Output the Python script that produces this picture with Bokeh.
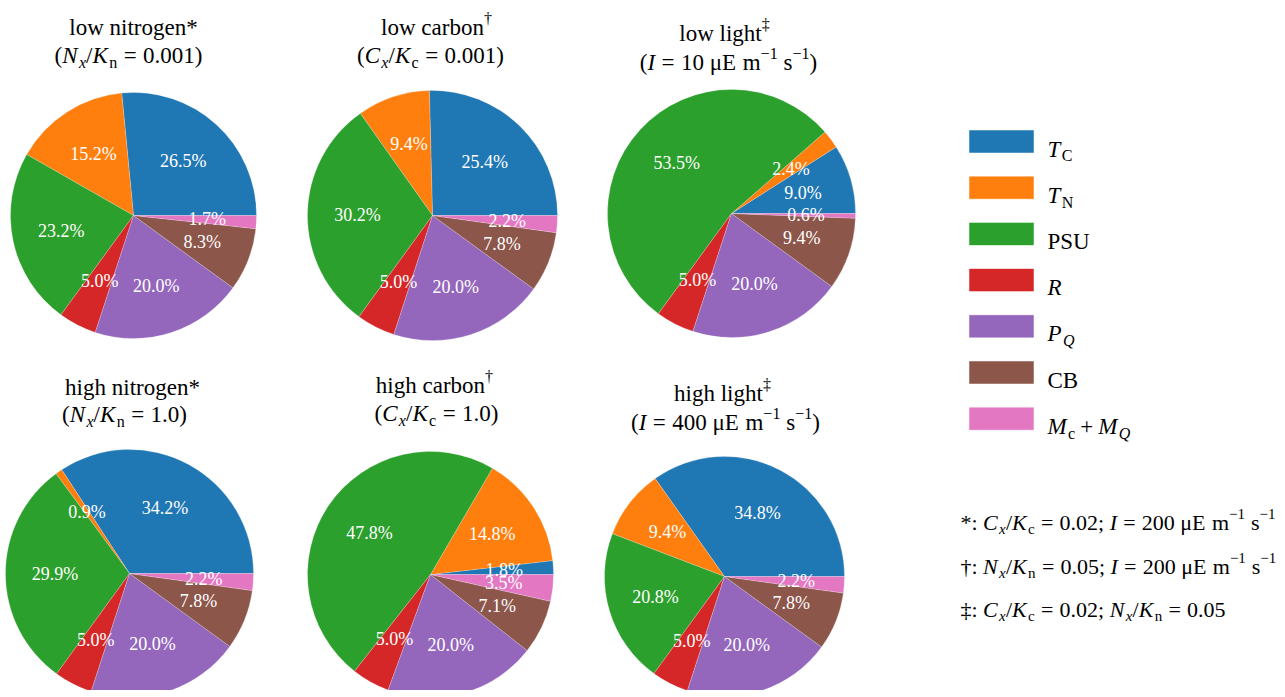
import numpy as np
from bokeh.plotting import figure
from bokeh.models import Range1d
from bokeh.core.properties import value
from bokeh.embed import file_html
from bokeh.resources import INLINE

# ---------------- data ----------------
components = ["T_C", "T_N", "PSU", "R", "P_Q", "CB", "M_c + M_Q"]
colors = ["#1f77b4", "#ff7f0e", "#2ca02c", "#d62728", "#9467bd", "#8c564b", "#e377c2"]

low_nitrogen = [26.5, 15.2, 23.2, 5.0, 20.0, 8.3, 1.7]
low_carbon = [25.4, 9.4, 30.2, 5.0, 20.0, 7.8, 2.2]
low_light = [9.0, 2.4, 53.5, 5.0, 20.0, 9.4, 0.6]
high_nitrogen = [34.2, 0.9, 29.9, 5.0, 20.0, 7.8, 2.2]
high_carbon = [1.8, 14.8, 47.8, 5.0, 20.0, 7.1, 3.5]
high_light = [34.8, 9.4, 20.8, 5.0, 20.0, 7.8, 2.2]

FONT = "Liberation Serif"
PAGE_H = 697
W, H = 1280, 690

p = figure(width=W, height=H, output_backend="svg", toolbar_location=None,
           x_range=Range1d(0, W), y_range=Range1d(PAGE_H - H, PAGE_H),
           x_axis_type=None, y_axis_type=None, min_border=0)
p.outline_line_color = None
p.grid.visible = False


def Y(y_img):
    return PAGE_H - y_img


WN = {' ': 250, '(': 333, ')': 333, '*': 500, '/': 278, '=': 564, '+': 564, '.': 250,
      ';': 278, ':': 278, '%': 833, '†': 500, '‡': 500, '−': 564, 'μ': 576,
      'a': 444, 'b': 500, 'c': 444, 'd': 500, 'e': 444, 'f': 333, 'g': 500, 'h': 500,
      'i': 278, 'j': 278, 'k': 500, 'l': 278, 'm': 778, 'n': 500, 'o': 500, 'p': 500,
      'q': 500, 'r': 333, 's': 389, 't': 278, 'u': 500, 'v': 500, 'w': 722, 'x': 500,
      'y': 500, 'z': 444,
      'A': 722, 'B': 667, 'C': 667, 'D': 722, 'E': 611, 'F': 556, 'G': 722, 'H': 722,
      'I': 333, 'K': 722, 'L': 611, 'M': 889, 'N': 722, 'O': 722, 'P': 556, 'Q': 722,
      'R': 667, 'S': 556, 'T': 611, 'U': 722}
WI = {'N': 667, 'K': 667, 'C': 667, 'I': 333, 'x': 444, 'T': 556, 'R': 611, 'P': 611,
      'Q': 722, 'M': 833}

STYLES = {  # scale, italic, raise (em of base size)
    "n": (1.0, False, 0.0),
    "i": (1.0, True, 0.0),
    "sub": (0.7, False, -0.3),
    "isub": (0.7, True, -0.3),
    "sup": (0.7, False, 0.4),
}


def put(x, y, t, size, style="normal", color="black", align="left", baseline="alphabetic"):
    p.text(x=[x], y=[y], text=[t], text_font=value(FONT), text_font_size=value(size),
           text_font_style=style, text_color=color, text_align=align,
           text_baseline=baseline)


def seg_width(t, style, fs):
    if style == "gap":
        return t * fs
    sc, it, _ = STYLES[style]
    tot = 0
    for ch in t:
        tot += WI.get(ch, WN.get(ch, 500)) if it else WN.get(ch, 500)
    return tot / 1000 * fs * sc


def rich(segs, x0, baseline, fs, align="left"):
    total = sum(seg_width(t, s, fs) for t, s in segs)
    x = x0 - total / 2 if align == "center" else x0
    for t, s in segs:
        w = seg_width(t, s, fs)
        if s != "gap":
            sc, it, r = STYLES[s]
            put(x, Y(baseline - r * fs), t, f"{round(fs * sc)}px", "italic" if it else "normal")
        x += w


G = (0.28, "gap")
SP = (0.25, "gap")
K = (0.06, "gap")


def eq():
    return [G, ("=", "n"), G]


def ratio(a, b):
    return [(a, "i"), K, ("x", "isub"), ("/", "n"), ("K", "i"), K, (b, "sub")]


def units(num):
    return [(num, "n"), SP, ("μE", "n"), SP, ("m", "n"), ("−1", "sup"), SP, ("s", "n"), ("−1", "sup")]


LN1 = [("low nitrogen*", "n")]
LN2 = [("(", "n")] + ratio("N", "n") + eq() + [("0.001)", "n")]
LC1 = [("low carbon", "n"), ("†", "sup")]
LC2 = [("(", "n")] + ratio("C", "c") + eq() + [("0.001)", "n")]
LL1 = [("low light", "n"), ("‡", "sup")]
LL2 = [("(", "n"), ("I", "i")] + eq() + units("10") + [(")", "n")]
HN1 = [("high nitrogen*", "n")]
HN2 = [("(", "n")] + ratio("N", "n") + eq() + [("1.0)", "n")]
HC1 = [("high carbon", "n"), ("†", "sup")]
HC2 = [("(", "n")] + ratio("C", "c") + eq() + [("1.0)", "n")]
HL1 = [("high light", "n"), ("‡", "sup")]
HL2 = [("(", "n"), ("I", "i")] + eq() + units("400") + [(")", "n")]

pies = [
    (low_nitrogen, 133, 215, 123, [(LN1, 133, 27), (LN2, 128, 55)]),
    (low_carbon, 432, 215, 125, [(LC1, 436, 27), (LC2, 430, 55)]),
    (low_light, 731, 213, 124, [(LL1, 724, 33), (LL2, 728, 62)]),
    (high_nitrogen, 129, 573, 124, [(HN1, 132, 387), (HN2, 124, 414)]),
    (high_carbon, 430, 574, 123, [(HC1, 434, 385), (HC2, 436, 413)]),
    (high_light, 724, 576, 120, [(HL1, 722, 393), (HL2, 725, 422)]),
]

for vals, cx, cy, rad, titles in pies:
    v = np.array(vals, dtype=float)
    cum = np.concatenate([[0], np.cumsum(v)]) / v.sum() * 2 * np.pi
    p.wedge(x=[cx] * len(v), y=[Y(cy)] * len(v), radius=rad,
            start_angle=cum[:-1], end_angle=cum[1:], fill_color=colors,
            line_color="white", line_width=0.5, line_alpha=0.4)
    mids = (cum[:-1] + cum[1:]) / 2
    for k in range(len(v)):
        put(cx + 0.6 * rad * np.cos(mids[k]), Y(cy) + 0.6 * rad * np.sin(mids[k]),
            f"{vals[k]:.1f}%", "18px", color="white", align="center", baseline="middle")
    for segs, tx, tb in titles:
        rich(segs, tx, tb, 23, align="center")

# ---------------- legend ----------------
legend_labels = [
    [("T", "i"), K, ("C", "sub")],
    [("T", "i"), K, ("N", "sub")],
    [("PSU", "n")],
    [("R", "i")],
    [("P", "i"), K, ("Q", "isub")],
    [("CB", "n")],
    [("M", "i"), K, ("c", "sub"), (0.22, "gap"), ("+", "n"), (0.22, "gap"), ("M", "i"), K, ("Q", "isub")],
]
ys = [141 + 46.2 * k for k in range(len(colors))]
p.rect(x=[1001] * len(colors), y=[Y(v) for v in ys], width=64, height=22,
       fill_color=colors, line_color=colors, line_alpha=0.5)
for k, lab in enumerate(legend_labels):
    rich(lab, 1047, ys[k] + 7.5, 23)

# ---------------- footnotes ----------------
F1 = [("*:", "n"), SP] + ratio("C", "c") + eq() + [("0.02;", "n"), SP, ("I", "i")] + eq() + units("200")
F2 = [("†:", "n"), SP] + ratio("N", "n") + eq() + [("0.05;", "n"), SP, ("I", "i")] + eq() + units("200")
F3 = [("‡:", "n"), SP] + ratio("C", "c") + eq() + [("0.02;", "n"), SP] + ratio("N", "n") + eq() + [("0.05", "n")]
for segs, base in [(F1, 522), (F2, 566), (F3, 609)]:
    rich(segs, 960, base, 22)

open("out.html", "w").write(file_html(p, INLINE))
